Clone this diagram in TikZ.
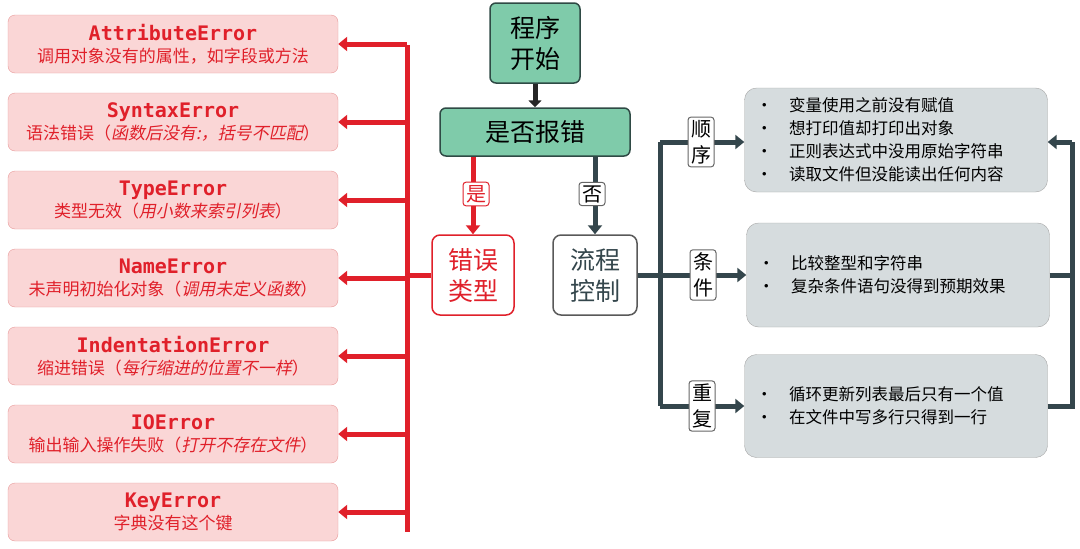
\documentclass[tikz,border=0pt]{standalone}
\usepackage{fontspec}
\setmainfont{Noto Sans CJK SC}
\newfontfamily\cjkit{Noto Sans CJK SC}[FakeSlant=0.2]
\newfontfamily\monob{DejaVu Sans Mono}
\usetikzlibrary{arrows.meta,positioning}
\definecolor{errred}{HTML}{E0202A}
\definecolor{pinkf}{HTML}{FAD6D6}
\definecolor{pinkd}{HTML}{E89A9A}
\definecolor{greenf}{HTML}{7FCBAA}
\definecolor{darkg}{HTML}{2F4A45}
\definecolor{grayf}{HTML}{D6DCDE}
\definecolor{slate}{HTML}{34464C}
\begin{document}
\begin{tikzpicture}[x=1pt,y=-1pt,
 err/.style={draw=pinkd,fill=pinkf,rounded corners=7pt,minimum width=330pt,minimum height=58pt,align=center,text=errred,inner sep=1pt,font=\fontsize{17}{22}\selectfont},
 green/.style={draw=darkg,line width=1.5pt,fill=greenf,rounded corners=6pt,align=center,font=\fontsize{25}{31}\selectfont},
 tag/.style={draw=gray!80!black,line width=1pt,fill=white,rounded corners=3pt,inner sep=3pt,align=center,font=\fontsize{20}{26}\selectfont},
 rbox/.style={draw=gray!70,fill=grayf,rounded corners=12pt,minimum width=303pt,align=left,font=\fontsize{16.5}{23}\selectfont,text width=280pt},
 ra/.style={draw=errred,line width=5pt,-{Triangle[length=9pt,width=14pt]}},
 rl/.style={draw=errred,line width=5pt},
 da/.style={draw=slate,line width=5pt,-{Triangle[length=9pt,width=14pt]}},
 dl/.style={draw=slate,line width=5pt},
]
\useasboundingbox (0,0) rectangle (1080,549);
\newcommand{\et}[1]{{\monob\bfseries\fontsize{20}{24}\selectfont #1}}
\node[err] (e1) at (173,44) {\et{AttributeError}\\调用对象没有的属性，如字段或方法};
\node[err] (e2) at (173,122) {\et{SyntaxError}\\语法错误（{\cjkit 函数后没有:，括号不匹配}）};
\node[err] (e3) at (173,200) {\et{TypeError}\\类型无效（{\cjkit 用小数来索引列表}）};
\node[err] (e4) at (173,278) {\et{NameError}\\未声明初始化对象（{\cjkit 调用未定义函数}）};
\node[err] (e5) at (173,356) {\et{IndentationError}\\缩进错误（{\cjkit 每行缩进的位置不一样}）};
\node[err] (e6) at (173,434) {\et{IOError}\\输出输入操作失败（{\cjkit 打开不存在文件}）};
\node[err] (e7) at (173,512) {\et{KeyError}\\字典没有这个键};
\coordinate (rt) at (407,45);
\coordinate (rb) at (407,532);
\draw[rl] (rt) -- (rb);
\foreach \i/\y in {1/44,2/122,3/200,4/278,5/356,6/434,7/512}{
 \coordinate (c\i) at (407,\y);
 \draw[ra] (c\i) -- (e\i.east);
}
\node[green,minimum width=90pt,minimum height=80pt] (start) at (535,43) {程序\\开始};
\node[green,minimum width=190pt,minimum height=48pt] (q) at (535,132) {是否报错};
\draw[draw=black!85,line width=5pt,-{Triangle[length=7pt,width=13pt]}] (start) -- (q);
\node[draw=errred,line width=1.5pt,fill=white,rounded corners=8pt,minimum width=82pt,minimum height=80pt,align=center,text=errred,font=\fontsize{25}{31}\selectfont] (etype) at (473,275) {错误\\类型};
\node[draw=gray!70!black,line width=1.5pt,fill=white,rounded corners=8pt,minimum width=84pt,minimum height=80pt,align=center,text=slate,font=\fontsize{25}{31}\selectfont] (flow) at (595,275) {流程\\控制};
\draw[ra] (q.south -| etype) -- (etype.north);
\draw[da] (q.south -| flow) -- (flow.north);
\node[tag,draw=errred,text=errred] at (476,194) {是};
\node[tag] at (592,194) {否};
\draw[rl] (etype.west) -- (407,275);
\node[rbox,minimum height=104pt] (r1) at (896,140) {•\quad 变量使用之前没有赋值\\•\quad 想打印值却打印出对象\\•\quad 正则表达式中没用原始字符串\\•\quad 读取文件但没能读出任何内容};
\node[rbox,minimum height=104pt] (r2) at (898,275) {•\quad 比较整型和字符串\\•\quad 复杂条件语句没得到预期效果};
\node[rbox,minimum height=103pt] (r3) at (896,406) {•\quad 循环更新列表最后只有一个值\\•\quad 在文件中写多行只得到一行};
\coordinate (lt) at (660,142);
\coordinate (lb) at (660,406);
\draw[dl] (lt) -- (lb);
\draw[da] (lt) -- (r1.west |- lt);
\draw[da] (flow.east) -- (r2.west |- flow.east);
\draw[da] (lb) -- (r3.west |- lb);
\node[tag] at (701,142) {顺\\序};
\node[tag] at (703,275) {条\\件};
\node[tag] at (702,406) {重\\复};
\coordinate (rt2) at (1072,142);
\draw[dl] (r3.east) -| (rt2);
\draw[dl] (r2.east) -- (1072,275);
\draw[da] (rt2) -- (r1.east |- rt2);
\end{tikzpicture}
\end{document}
